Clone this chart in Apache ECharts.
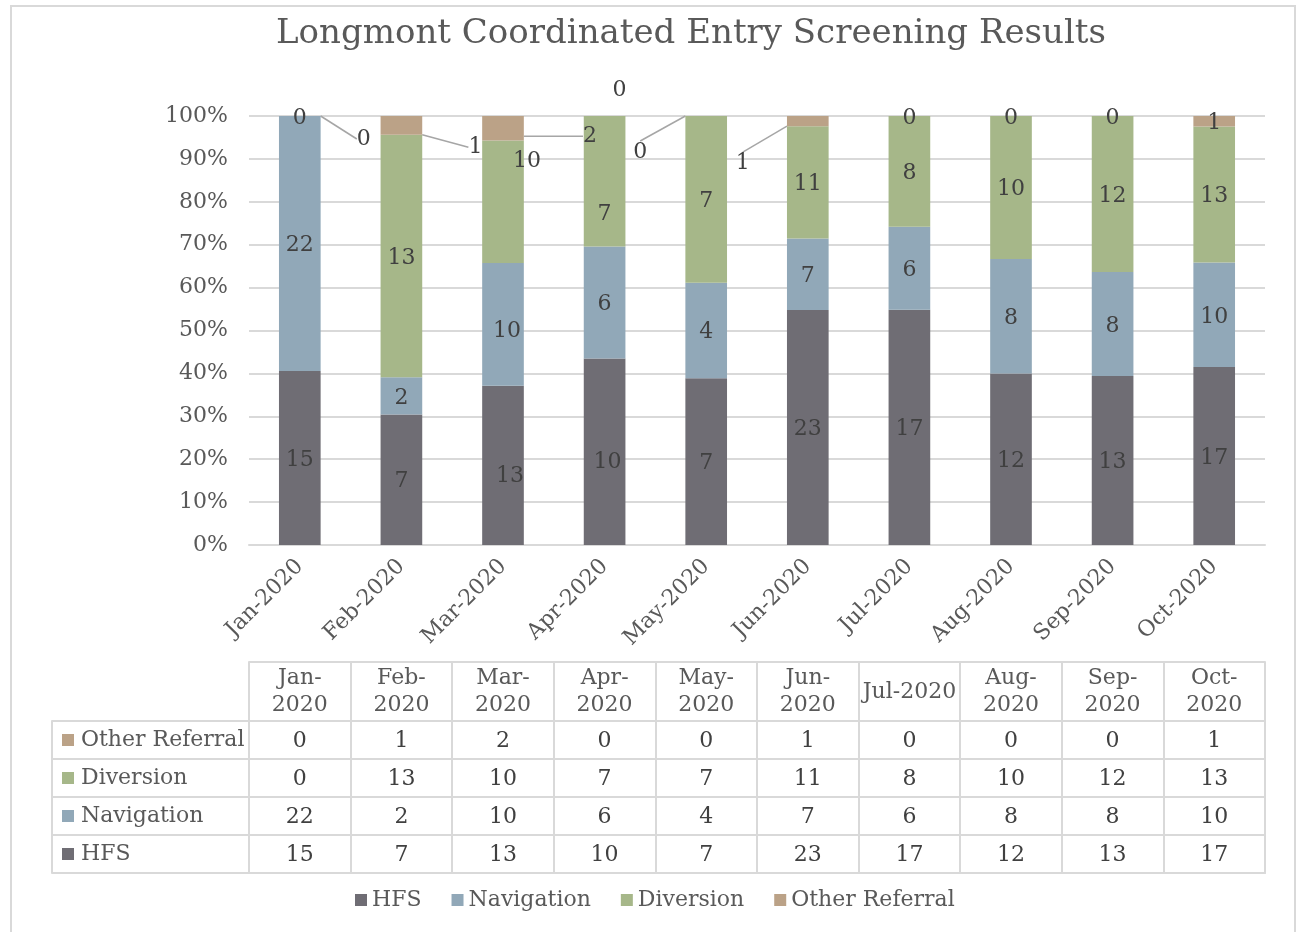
<!DOCTYPE html>
<html>
<head>
<meta charset="utf-8">
<script src="https://cdn.jsdelivr.net/npm/echarts@6/dist/echarts.min.js"></script>
<style>
html, body { margin: 0; padding: 0; background: #fff; }
#chart { width: 1296px; height: 932px; }
</style>
</head>
<body>
<div id="chart"></div>
<script>
// chart data
var months = ['Jan-2020', 'Feb-2020', 'Mar-2020', 'Apr-2020', 'May-2020', 'Jun-2020', 'Jul-2020', 'Aug-2020', 'Sep-2020', 'Oct-2020'];
var headerLabels = ['Jan-\n2020', 'Feb-\n2020', 'Mar-\n2020', 'Apr-\n2020', 'May-\n2020', 'Jun-\n2020', 'Jul-2020', 'Aug-\n2020', 'Sep-\n2020', 'Oct-\n2020'];
var seriesNames = ['HFS', 'Navigation', 'Diversion', 'Other Referral'];
var hfs = [15, 7, 13, 10, 7, 23, 17, 12, 13, 17];
var navigation = [22, 2, 10, 6, 4, 7, 6, 8, 8, 10];
var diversion = [0, 13, 10, 7, 7, 11, 8, 10, 12, 13];
var otherReferral = [0, 1, 2, 0, 0, 1, 0, 0, 0, 1];

var colors = ['#6f6d74', '#91a8b8', '#a6b789', '#bba287'];
var FONT = '"DejaVu Serif", serif';
var FS = 22;
var LINE = '#d9d9d9';

// labels that were dragged around in the original, [dx, dy] per series / month
var labelMoves = {
	0: { 2: [7, 11], 3: [3, 11] },
	1: { 2: [4, 7] },
	2: { 0: [64, 23], 2: [24, -41], 3: [0, 33] },
	3: { 1: [74, 22], 2: [87, 8], 3: [15, -26], 4: [-66, 36], 5: [-65, 42] }
};
var leaders = { 2: [0], 3: [1, 2, 4, 5] };

var rawData = [hfs, navigation, diversion, otherReferral];
var totals = months.map(function(m, i) {
	return hfs[i] + navigation[i] + diversion[i] + otherReferral[i];
});

var barSeries = rawData.map(function(arr, s) {
	return {
		name: seriesNames[s],
		type: 'bar',
		stack: 'total',
		xAxisIndex: 0,
		yAxisIndex: 0,
		barWidth: '41%',
		itemStyle: { color: colors[s] },
		label: {
			show: true,
			position: 'inside',
			fontFamily: FONT,
			fontSize: FS,
			color: '#404040',
			formatter: function(p) { return rawData[p.seriesIndex][p.dataIndex]; }
		},
		labelLine: { lineStyle: { color: '#a6a6a6', width: 1.5 } },
		labelLayout: function(p) {
			var m = labelMoves[p.seriesIndex] && labelMoves[p.seriesIndex][p.dataIndex];
			return m ? { dx: m[0], dy: m[1] } : { dy: 2 };
		},
		data: arr.map(function(v, i) {
			var lead = (leaders[s] || []).indexOf(i) >= 0;
			return { value: v / totals[i] * 100, labelLine: { show: lead } };
		})
	};
});

// table cells: [month index, row index, value]
var cells = [];
rawData.forEach(function(arr, r) {
	arr.forEach(function(v, c) { cells.push([c, r, v]); });
});

var rich = {};
colors.forEach(function(c, i) {
	rich['s' + i] = { width: 12, height: 12, backgroundColor: c };
});

var chart = echarts.init(document.getElementById('chart'));
chart.setOption({
	animation: false,
	backgroundColor: '#fff',
	title: {
		text: 'Longmont Coordinated Entry Screening Results',
		left: 271,
		top: 12,
		textStyle: { fontFamily: FONT, fontSize: 34, fontWeight: 'normal', color: '#595959' }
	},
	legend: {
		data: seriesNames,
		left: 350,
		top: 884,
		icon: 'rect',
		itemWidth: 12,
		itemHeight: 12,
		itemGap: 30,
		textStyle: { fontFamily: FONT, fontSize: FS, color: '#595959' }
	},
	graphic: [{
		type: 'rect',
		shape: { x: 11, y: 6, width: 1284, height: 1000 },
		style: { fill: 'none', stroke: LINE, lineWidth: 2 },
		silent: true
	}],
	grid: [
		{ left: 249, right: 31, top: 116, height: 429 },
		{ left: 249, right: 31, top: 721, height: 152 }
	],
	xAxis: [
		{
			gridIndex: 0, type: 'category', data: months,
			axisLine: { lineStyle: { color: LINE, width: 2 } },
			axisTick: { show: false },
			axisLabel: { interval: 0, rotate: 45, margin: 18, fontFamily: FONT, fontSize: FS, color: '#595959' }
		},
		{
			gridIndex: 1, type: 'category', data: months, position: 'bottom',
			axisLine: { lineStyle: { color: LINE, width: 2 } },
			axisTick: { show: false },
			axisLabel: { show: false },
			splitLine: { show: true, interval: 0, lineStyle: { color: LINE, width: 2 } }
		},
		{
			gridIndex: 1, type: 'category', data: months, position: 'top',
			axisLine: { lineStyle: { color: LINE, width: 2 } },
			axisTick: { show: true, interval: 0, length: 59, lineStyle: { color: LINE, width: 2 } },
			axisLabel: {
				interval: 0, margin: 29, verticalAlign: 'middle', lineHeight: 27,
				fontFamily: FONT, fontSize: FS, color: '#595959',
				formatter: function(v, i) { return headerLabels[i]; }
			}
		},
		{
			gridIndex: 1, type: 'category', data: months, position: 'top', offset: 59,
			axisLine: { lineStyle: { color: LINE, width: 2 } },
			axisTick: { show: false },
			axisLabel: { show: false }
		}
	],
	yAxis: [
		{
			gridIndex: 0, type: 'value', min: 0, max: 100, interval: 10,
			axisLine: { show: false },
			axisTick: { show: false },
			splitLine: { lineStyle: { color: LINE, width: 2 } },
			axisLabel: { margin: 21, fontFamily: FONT, fontSize: FS, color: '#595959', formatter: '{value}%' }
		},
		{
			gridIndex: 1, type: 'category', data: seriesNames, position: 'left',
			axisLine: { show: true, lineStyle: { color: LINE, width: 2 } },
			axisTick: { show: true, interval: 0, length: 197, lineStyle: { color: LINE, width: 2 } },
			splitLine: { show: true, interval: 0, lineStyle: { color: LINE, width: 2 } },
			axisLabel: {
				interval: 0, align: 'left', margin: 187,
				fontFamily: FONT, fontSize: FS, color: '#595959',
				formatter: function(v, i) { return '{s' + i + '|\u00a0} ' + v; },
				rich: rich
			}
		},
		{
			gridIndex: 1, type: 'category', data: seriesNames, position: 'left', offset: 197,
			axisLine: { show: true, lineStyle: { color: LINE, width: 2 } },
			axisTick: { show: false },
			axisLabel: { show: false }
		},
		{
			gridIndex: 1, type: 'category', data: seriesNames, position: 'right',
			axisLine: { show: true, lineStyle: { color: LINE, width: 2 } },
			axisTick: { show: false },
			axisLabel: { show: false }
		}
	],
	series: barSeries.concat([{
		type: 'custom',
		xAxisIndex: 1,
		yAxisIndex: 1,
		silent: true,
		data: cells,
		renderItem: function(params, api) {
			var p = api.coord([api.value(0), api.value(1)]);
			return {
				type: 'text',
				x: p[0],
				y: p[1] + 1,
				style: {
					text: String(api.value(2)),
					align: 'center',
					verticalAlign: 'middle',
					fontFamily: FONT,
					fontSize: FS,
					fill: '#404040'
				}
			};
		}
	}])
});
</script>
</body>
</html>
